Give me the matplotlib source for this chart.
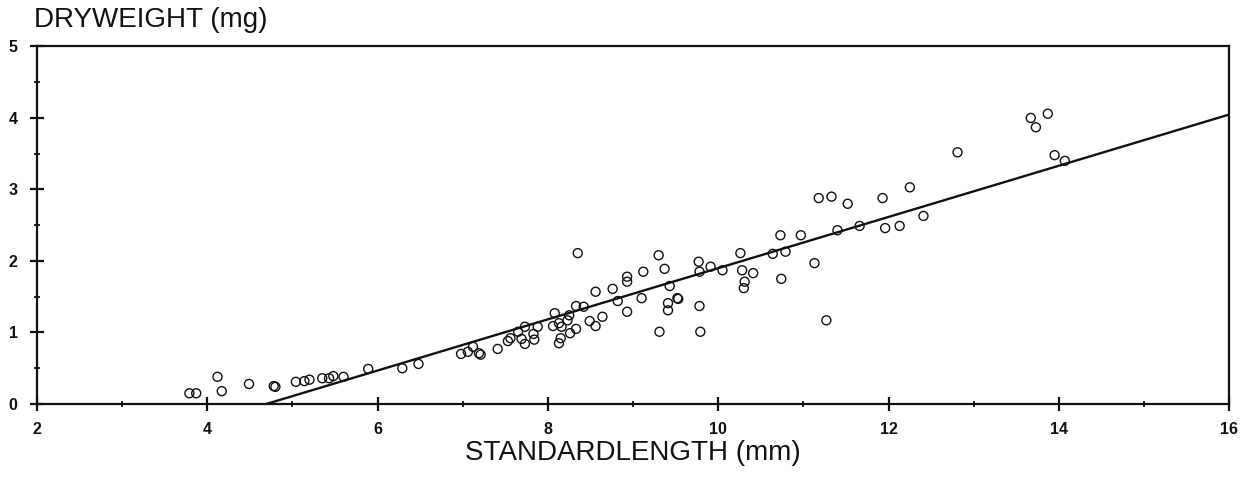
import numpy as np
import matplotlib
matplotlib.use("Agg")
import matplotlib.pyplot as plt
from matplotlib.ticker import MultipleLocator

# standard length (mm) vs dry weight (mg)
length_mm = [3.79, 3.87, 4.12, 4.17, 4.49, 4.78, 4.80, 5.04, 5.14, 5.20,
             5.35, 5.43, 5.48, 5.60, 5.89, 6.29, 6.48, 6.98, 7.06, 7.12,
             7.19, 7.21, 7.41, 7.53, 7.56, 7.65, 7.73, 7.69, 7.73, 7.83,
             7.84, 7.88, 8.08, 8.06, 8.13, 8.16, 8.15, 8.13, 8.23, 8.25,
             8.33, 8.42, 8.26, 8.33, 8.35, 8.49, 8.56, 8.56, 8.64, 8.76,
             8.82, 8.93, 8.93, 8.93, 9.10, 9.12, 9.30, 9.31, 9.37, 9.43,
             9.41, 9.41, 9.52, 9.53, 9.77, 9.78, 9.78, 9.79, 9.91, 10.05,
             10.26, 10.28, 10.31, 10.30, 10.41, 10.64, 10.73, 10.79, 10.74, 10.97,
             11.13, 11.18, 11.33, 11.27, 11.40, 11.52, 11.66, 11.93, 11.96, 12.13,
             12.25, 12.41, 12.81, 13.67, 13.73, 13.87, 13.95, 14.07]
dryweight_mg = [0.15, 0.15, 0.38, 0.18, 0.28, 0.25, 0.24, 0.31, 0.32, 0.34,
                0.36, 0.36, 0.39, 0.38, 0.49, 0.50, 0.56, 0.70, 0.73, 0.80,
                0.71, 0.69, 0.77, 0.88, 0.92, 1.01, 1.08, 0.91, 0.84, 0.98,
                0.90, 1.08, 1.27, 1.09, 1.13, 1.08, 0.92, 0.85, 1.17, 1.24,
                1.37, 1.36, 0.99, 1.05, 2.11, 1.16, 1.09, 1.57, 1.22, 1.61,
                1.44, 1.29, 1.78, 1.71, 1.48, 1.85, 2.08, 1.01, 1.89, 1.65,
                1.41, 1.31, 1.48, 1.47, 1.99, 1.85, 1.37, 1.01, 1.92, 1.87,
                2.11, 1.87, 1.71, 1.62, 1.83, 2.10, 2.36, 2.13, 1.75, 2.36,
                1.97, 2.88, 2.90, 1.17, 2.43, 2.80, 2.49, 2.88, 2.46, 2.49,
                3.03, 2.63, 3.52, 4.00, 3.87, 4.06, 3.48, 3.40]

# fitted line as drawn
slope = 0.358
intercept = -1.68
fit_end = 16.0

plt.rcParams['font.family'] = ['Liberation Sans', 'DejaVu Sans']

fig = plt.figure(figsize=(12.53, 4.79), dpi=100)
ax = fig.add_axes([0.0295, 0.1566, 0.9515, 0.7464])

ax.scatter(length_mm, dryweight_mg, s=42, facecolors='none',
           edgecolors='#111111', linewidths=1.0, zorder=3)

fit_start = -intercept / slope
xf = np.array([fit_start, fit_end])
ax.plot(xf, slope * xf + intercept, color='#111111', lw=1.7, zorder=2)

ax.set_xlim(2, 16)
ax.set_ylim(0, 5)
ax.xaxis.set_major_locator(MultipleLocator(2))
ax.xaxis.set_minor_locator(MultipleLocator(1))
ax.yaxis.set_major_locator(MultipleLocator(1))
ax.yaxis.set_minor_locator(MultipleLocator(0.5))

ax.tick_params(axis='both', which='major', direction='inout', length=10,
               width=1.6, labelsize=11.5, colors='#111111')
ax.tick_params(axis='both', which='minor', direction='inout', length=5,
               width=1.3, colors='#111111')
ax.tick_params(axis='y', which='major', pad=9)
ax.tick_params(axis='x', which='major', pad=8)
for lab in ax.get_xticklabels() + ax.get_yticklabels():
    lab.set_fontweight('bold')

for sp in ax.spines.values():
    sp.set_linewidth(1.6)
    sp.set_color('#111111')

ax.set_xlabel('STANDARDLENGTH (mm)', fontsize=20, labelpad=2, color='#111111')
fig.text(0.027, 0.958, 'DRYWEIGHT (mg)', fontsize=20, ha='left', va='center',
         color='#111111')

fig.savefig('out.png', dpi=100)
